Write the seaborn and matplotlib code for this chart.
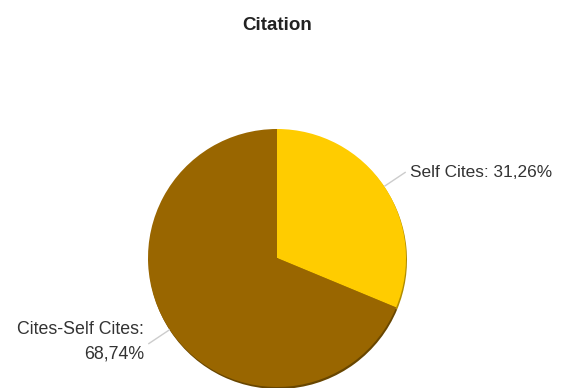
#!/usr/bin/env python3
"""Citation pie: self cites vs. other cites."""

import matplotlib
matplotlib.use("Agg")
import matplotlib.pyplot as plt
import numpy as np
import seaborn as sns

# data
labels = ["Self Cites", "Cites-Self Cites"]
shares = [31.26, 68.74]
label_texts = ["Self Cites: 31,26%", "Cites-Self Cites:\n68,74%"]
colors = ["#ffcc00", "#996600"]
shadow_colors = ["#b08c00", "#684600"]

sns.set_theme(style="white")
plt.rcParams["font.family"] = ["Liberation Sans", "DejaVu Sans"]

fig = plt.figure(figsize=(5.64, 3.88), dpi=100)
ax = fig.add_axes([0, 0, 1, 1])

cx, cy, r = 277, 130, 129

# thin shadow rim under the pie
ax.pie(shares, colors=shadow_colors, startangle=90, counterclock=False,
       center=(cx + 1, cy - 2), radius=r, frame=True,
       wedgeprops=dict(linewidth=0))
wedges, _ = ax.pie(shares, colors=colors, startangle=90, counterclock=False,
                   center=(cx, cy), radius=r, frame=True,
                   wedgeprops=dict(linewidth=0))
ax.set_xlim(0, 564)
ax.set_ylim(0, 388)
ax.set_aspect("equal")
ax.axis("off")

for w, txt in zip(wedges, label_texts):
    mid = np.deg2rad((w.theta1 + w.theta2) / 2)
    c, s = np.cos(mid), np.sin(mid)
    x0, y0 = cx + r * c, cy + r * s
    x1, y1 = cx + 1.2 * r * c, cy + 1.2 * r * s
    ax.plot([x0, x1], [y0, y1], color="#cccccc", lw=1, solid_capstyle="butt")
    if c > 0:
        ax.text(x1 + 4, y1, txt, ha="left", va="center", fontsize=12.4,
                color="#333333")
    else:
        ax.text(x1 - 4, y1 + 2, txt, ha="right", va="center", fontsize=12.8,
                color="#333333", linespacing=1.6, multialignment="right")

fig.text(277 / 564, 1 - 26 / 388, "Citation", ha="center", va="center",
         fontsize=13.5, fontweight="bold", color="#222222")

fig.savefig("out.png", dpi=100)
